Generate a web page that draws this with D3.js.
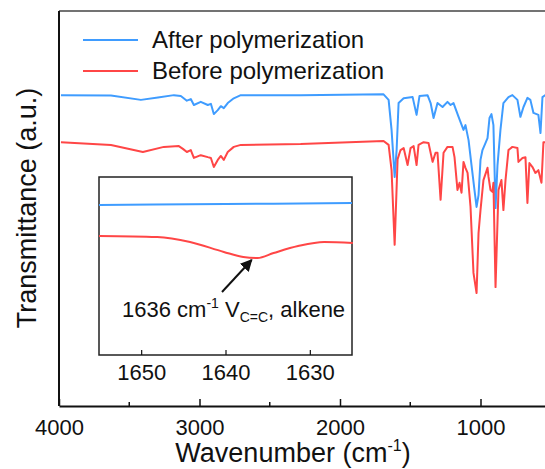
<!DOCTYPE html>
<html>
<head>
<meta charset="utf-8">
<script src="https://cdn.jsdelivr.net/npm/d3@7"></script>
<style>
  body { margin: 0; background: #fff; }
  svg { display: block; font-family: "Liberation Sans", Arial, sans-serif; }
</style>
</head>
<body>
<svg width="545" height="469"></svg>
<script>
// main spectrum, wavenumber (cm-1) and transmittance (a.u.)
const afterWave = [3986, 3630, 3417, 3296, 3182, 3133, 3090, 3062, 3040, 2991, 2941, 2919, 2898, 2870, 2848, 2827, 2799, 2756, 2706, 2280, 1690, 1654, 1633, 1611, 1597, 1583, 1547, 1483, 1455, 1434, 1377, 1355, 1334, 1306, 1270, 1235, 1213, 1192, 1156, 1121, 1107, 1085, 1064, 1043, 1028, 1014, 1000, 986, 964, 950, 936, 922, 908, 893, 879, 858, 837, 801, 773, 737, 716, 694, 666, 645, 623, 588, 573, 559, 538, 500];
const afterT = [78.7, 78.6, 77.5, 78.1, 78.7, 78.5, 77.3, 77.7, 76.2, 77.0, 76.2, 76.5, 73.9, 74.9, 75.9, 75.4, 76.7, 77.9, 78.7, 78.7, 78.9, 77.5, 69.9, 58.0, 64.8, 76.7, 77.9, 78.2, 73.7, 78.5, 78.7, 76.7, 72.9, 76.7, 75.7, 77.0, 76.2, 76.7, 73.2, 69.9, 71.1, 67.3, 61.0, 54.7, 50.4, 53.4, 62.3, 64.8, 66.6, 67.8, 72.9, 73.9, 71.1, 50.1, 61.0, 69.9, 76.7, 78.2, 78.7, 77.5, 73.2, 75.7, 78.0, 77.5, 74.2, 73.7, 69.1, 78.2, 78.7, 78.7];

const beforeWave = [3986, 3630, 3403, 3254, 3147, 3118, 3090, 3062, 3040, 2991, 2941, 2919, 2898, 2870, 2848, 2827, 2799, 2756, 2706, 2280, 1690, 1654, 1633, 1611, 1590, 1569, 1547, 1519, 1498, 1476, 1455, 1441, 1405, 1370, 1341, 1320, 1306, 1284, 1263, 1235, 1199, 1185, 1164, 1149, 1135, 1121, 1107, 1092, 1071, 1050, 1028, 1014, 1000, 979, 950, 943, 929, 915, 908, 893, 872, 851, 837, 822, 801, 773, 737, 730, 701, 680, 666, 652, 630, 609, 588, 566, 552, 538, 500];
const beforeT = [66.8, 66.1, 64.3, 65.6, 65.8, 65.1, 64.3, 64.8, 62.8, 63.5, 63.0, 62.8, 60.5, 62.3, 63.3, 62.3, 64.3, 65.6, 66.1, 66.3, 67.1, 66.1, 59.7, 40.8, 62.5, 64.8, 65.3, 61.0, 65.3, 65.8, 61.0, 66.1, 66.8, 66.6, 61.8, 64.1, 64.1, 52.2, 64.1, 65.6, 65.6, 63.0, 54.7, 56.5, 54.0, 61.8, 60.3, 59.0, 50.4, 33.7, 28.6, 43.8, 49.6, 57.2, 60.3, 58.0, 54.7, 54.2, 56.5, 30.1, 54.7, 57.2, 49.6, 57.2, 64.8, 65.6, 65.3, 61.8, 62.8, 63.0, 51.4, 61.5, 60.5, 59.0, 59.7, 56.5, 66.8, 66.8, 66.8];

// inset, zoom on the C=C band
const insetAfterWave = [1655, 1640, 1625];
const insetAfterT = [84.3, 84.8, 85.4];
const insetBeforeWave = [1655, 1648.1, 1644.2, 1640.2, 1637.9, 1636.2, 1634.3, 1631.4, 1628.3, 1624.9];
const insetBeforeT = [66.9, 66.3, 63.5, 57.9, 55.1, 54.5, 57.3, 61.2, 63.5, 62.9];

const mainTicks = [4000, 3000, 2000, 1000];
const mainMinor = [3500, 2500, 1500];
const insetTicks = [1650, 1640, 1630];
const seriesNames = ["After polymerization", "Before polymerization"];
const peakWave = 1636;

const blue = "#3f9cff", red = "#ff4646", ink = "#111";

const svg = d3.select("svg");
const plotLeft = 59, plotTop = 11, plotBottom = 406;

const x = d3.scaleLinear().domain([4000, 400]).range([plotLeft, plotLeft + 3600 * 0.1405]);
const y = d3.scaleLinear().domain([0, 100]).range([plotBottom, plotTop]);

svg.append("clipPath").attr("id", "plot")
  .append("rect").attr("x", plotLeft).attr("y", plotTop).attr("width", 545 - plotLeft).attr("height", plotBottom - plotTop);

const zip = (a, b) => a.map((d, i) => [d, b[i]]);

const line = d3.line().x(d => x(d[0])).y(d => y(d[1]));

const g = svg.append("g").attr("clip-path", "url(#plot)");
g.append("path").datum(zip(afterWave, afterT))
  .attr("d", line).attr("fill", "none").attr("stroke", blue).attr("stroke-width", 2).attr("stroke-linejoin", "round");
g.append("path").datum(zip(beforeWave, beforeT))
  .attr("d", line).attr("fill", "none").attr("stroke", red).attr("stroke-width", 2).attr("stroke-linejoin", "round");

// frame
svg.append("line").attr("x1", plotLeft).attr("x2", 545).attr("y1", plotTop).attr("y2", plotTop)
  .attr("stroke", "#444").attr("stroke-width", 1.5);
svg.append("line").attr("x1", plotLeft).attr("x2", plotLeft).attr("y1", plotTop).attr("y2", plotBottom)
  .attr("stroke", ink).attr("stroke-width", 2);

const xAxis = svg.append("g").attr("transform", `translate(0,${plotBottom})`)
  .call(d3.axisBottom(x).tickValues(mainTicks).tickSizeInner(-7).tickSizeOuter(0).tickPadding(13).tickFormat(d3.format("d")));
xAxis.select(".domain").attr("stroke", ink).attr("stroke-width", 2);
xAxis.selectAll(".tick line").attr("stroke", ink).attr("stroke-width", 1.5);
xAxis.selectAll("text").attr("font-size", 22).attr("fill", ink).attr("font-family", null);

svg.append("g").attr("transform", `translate(0,${plotBottom})`)
  .selectAll("line").data(mainMinor).join("line")
  .attr("x1", d => x(d)).attr("x2", d => x(d)).attr("y1", 0).attr("y2", -4)
  .attr("stroke", ink).attr("stroke-width", 1.5);

// axis titles
const xt = svg.append("text").attr("x", 293).attr("y", 462).attr("text-anchor", "middle")
  .attr("font-size", 27).attr("fill", ink).text("Wavenumber (cm");
xt.append("tspan").attr("font-size", 16).attr("dy", -11).text("-1");
xt.append("tspan").attr("dy", 11).text(")");

svg.append("text").attr("transform", "translate(36,208) rotate(-90)").attr("text-anchor", "middle")
  .attr("font-size", 27).attr("fill", ink).text("Transmittance (a.u.)");

// legend
const legend = svg.append("g");
[blue, red].forEach((c, i) => {
  legend.append("line").attr("x1", 83).attr("x2", 138).attr("y1", 40 + i * 31).attr("y2", 40 + i * 31)
    .attr("stroke", c).attr("stroke-width", 2);
  legend.append("text").attr("x", 152).attr("y", 48 + i * 31).attr("font-size", 24).attr("fill", ink)
    .text(seriesNames[i]);
});

// inset
const ix = d3.scaleLinear().domain([1655, 1625]).range([99, 352]);
const iy = d3.scaleLinear().domain([0, 100]).range([355, 177]);
const inset = svg.append("g");
inset.append("rect").attr("x", 99).attr("y", 177).attr("width", 253).attr("height", 178)
  .attr("fill", "#fff").attr("stroke", "#222").attr("stroke-width", 1.5);

const iline = d3.line().x(d => ix(d[0])).y(d => iy(d[1])).curve(d3.curveMonotoneX);
inset.append("path").datum(zip(insetAfterWave, insetAfterT))
  .attr("d", iline).attr("fill", "none").attr("stroke", blue).attr("stroke-width", 2);
inset.append("path").datum(zip(insetBeforeWave, insetBeforeT))
  .attr("d", iline).attr("fill", "none").attr("stroke", red).attr("stroke-width", 2);

const ixAxis = inset.append("g").attr("transform", "translate(0,355)")
  .call(d3.axisBottom(ix).tickValues(insetTicks).tickSizeInner(-5).tickSizeOuter(0).tickPadding(9).tickFormat(d3.format("d")));
ixAxis.select(".domain").remove();
ixAxis.selectAll(".tick line").attr("stroke", ink).attr("stroke-width", 1.2);
ixAxis.selectAll("text").attr("font-size", 22).attr("fill", ink).attr("font-family", null);

// annotation arrow
svg.append("defs").append("marker").attr("id", "head")
  .attr("viewBox", "0 0 10 10").attr("refX", 9).attr("refY", 5)
  .attr("markerWidth", 6).attr("markerHeight", 6).attr("orient", "auto")
  .append("path").attr("d", "M0,0L10,5L0,10Z").attr("fill", ink);

const tipY = iy(d3.min(insetBeforeT)) + 2;
svg.append("line").attr("x1", 222).attr("y1", 292).attr("x2", ix(peakWave + 0.9)).attr("y2", tipY)
  .attr("stroke", ink).attr("stroke-width", 2).attr("marker-end", "url(#head)");

const ann = svg.append("text").attr("x", 122).attr("y", 317).attr("font-size", 22).attr("fill", ink)
  .text(peakWave + " cm");
ann.append("tspan").attr("font-size", 14).attr("dy", -9).text("-1");
ann.append("tspan").attr("dy", 9).text(" V");
ann.append("tspan").attr("font-size", 14).attr("dy", 5).text("C=C");
ann.append("tspan").attr("dy", -5).text(", alkene");
</script>
</body>
</html>
